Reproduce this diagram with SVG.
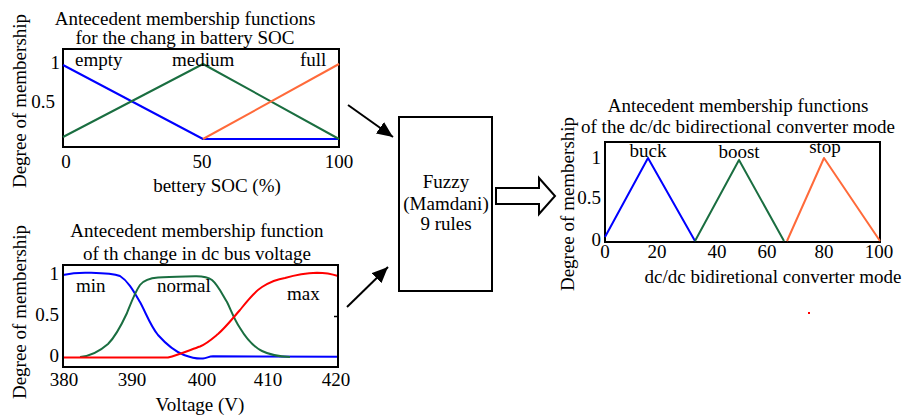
<svg xmlns="http://www.w3.org/2000/svg" width="904" height="415" viewBox="0 0 904 415">
<style>
text{font-family:"Liberation Serif","Times New Roman",serif;font-size:19px;fill:#000}
.m{text-anchor:middle}
.e{text-anchor:end}
.box{fill:none;stroke:#000;stroke-width:2}
.c{fill:none;stroke-width:2;stroke-linejoin:round}
.b{stroke:#0000ff}
.g{stroke:#1a6e40}
.o{stroke:#ff6a3a}
.r{stroke:#ff0000}
.a{stroke:#000;stroke-width:2;fill:none}
</style>
<defs>
<marker id="ah2" viewBox="0 0 10 10" refX="10" refY="5" markerWidth="16" markerHeight="14" markerUnits="userSpaceOnUse" orient="auto" preserveAspectRatio="none">
<path d="M0,0 L10,5 L0,10 Z" fill="#000"/>
</marker>
</defs>

<g id="soc-plot">
<text class="m" x="185" y="25">Antecedent membership functions</text>
<text class="m" x="185" y="44">for the chang in battery SOC</text>
<text class="m" transform="translate(26,101) rotate(-90)">Degree of membership</text>
<rect class="box" x="63" y="49" width="276" height="98"/>
<polyline class="c b" points="63,65 203,139 339,139"/>
<polyline class="c g" points="63,137 203,64 339,139"/>
<polyline class="c o" points="203,139 339,64"/>
<text x="75" y="66">empty</text>
<text x="172" y="66">medium</text>
<text x="300" y="66">full</text>
<text class="e" x="60" y="69">1</text>
<text class="e" x="55" y="108">0.5</text>
<text class="m" x="66" y="168">0</text>
<text class="m" x="202" y="168">50</text>
<text class="m" x="339" y="168">100</text>
<text class="m" x="217" y="192">bettery SOC (%)</text>
</g>

<g id="voltage-plot">
<text class="m" x="197" y="237">Antecedent membership function</text>
<text class="m" x="197" y="260">of th change in dc bus voltage</text>
<text class="m" transform="translate(26,312) rotate(-90)">Degree of membership</text>
<path class="c b" d="M63,275 C72,273 80,272.5 88,272.7 C100,273 112,273 120,276 C128,281 133,290 140,302 C146,313 150,325 158,335 C166,344 174,351 184,355 C192,358 198,359 203,358.5 C207,358 209,356.5 213,356.3 L338,356.8"/>
<path class="c g" d="M80,357 C92,356 100,351 108,344 C116,336 121,326 127,313 C131,303 135,292 140,285 C144,280 150,278 158,277.5 C170,276.5 185,276.5 195,276.2 C203,276 208,277 212,280 C218,285 222,294 227,302 C231,310 234,319 240,328 C246,338 252,346 262,351 C270,355 278,356.5 290,357"/>
<path class="c r" d="M63,357.5 L168,357.5 C178,355 190,350 200,346.5 C207,343.5 212,339 218,334 C226,327 232,319 240,310 C248,300 254,292 262,287 C270,282 278,279 285,278 C295,275 305,273 317,272.7 C326,272.7 332,274 338,276"/>
<rect class="box" x="63" y="265" width="275" height="102"/>
<line x1="334" y1="316.5" x2="338" y2="316.5" stroke="#000" stroke-width="1.5"/>
<text x="76" y="292">min</text>
<text x="157" y="292">normal</text>
<text x="287" y="300">max</text>
<text class="e" x="59" y="280">1</text>
<text class="e" x="59" y="321">0.5</text>
<text class="e" x="59" y="362">0</text>
<text class="m" x="64" y="386">380</text>
<text class="m" x="132" y="386">390</text>
<text class="m" x="202" y="386">400</text>
<text class="m" x="268" y="386">410</text>
<text class="m" x="336" y="386">420</text>
<text class="m" x="200" y="411">Voltage (V)</text>
</g>

<g id="fuzzy">
<rect class="box" x="399" y="117" width="93" height="174" fill="#fff"/>
<text class="m" x="446" y="188">Fuzzy</text>
<text class="m" x="446" y="210">(Mamdani)</text>
<text class="m" x="446" y="230">9 rules</text>
</g>

<g id="mode-plot">
<text class="m" x="738" y="112">Antecedent membership functions</text>
<text class="m" x="738" y="133">of the dc/dc bidirectional converter mode</text>
<text class="m" transform="translate(574,204) rotate(-90)">Degree of membership</text>
<rect class="box" x="605" y="142" width="275" height="100"/>
<polyline class="c b" points="605,237 648,158 695,241"/>
<polyline class="c g" points="695,241 739,160 784,241"/>
<polyline class="c o" points="787,241 824,158 880,241"/>
<text class="m" x="648" y="157">buck</text>
<text class="m" x="739" y="158">boost</text>
<text class="m" x="825" y="153">stop</text>
<text class="e" x="601" y="164">1</text>
<text class="e" x="601" y="204">0.5</text>
<text class="e" x="601" y="246">0</text>
<text class="m" x="605" y="258">0</text>
<text class="m" x="657" y="258">20</text>
<text class="m" x="717" y="258">40</text>
<text class="m" x="767" y="258">60</text>
<text class="m" x="824" y="258">80</text>
<text class="m" x="879" y="258">100</text>
<text class="m" x="773" y="283">dc/dc bidiretional converter mode</text>
<rect x="808" y="312" width="2" height="2" fill="#ff0000"/>
</g>

<g id="connectors">
<line class="a" x1="348" y1="105" x2="393" y2="137" marker-end="url(#ah2)"/>
<line class="a" x1="347" y1="307" x2="388" y2="267" marker-end="url(#ah2)"/>
<path d="M496,188 L539,188 L539,178 L555,196 L539,214 L539,204 L496,204 Z" fill="#fff" stroke="#000" stroke-width="2" stroke-linejoin="miter"/>
</g>
</svg>
